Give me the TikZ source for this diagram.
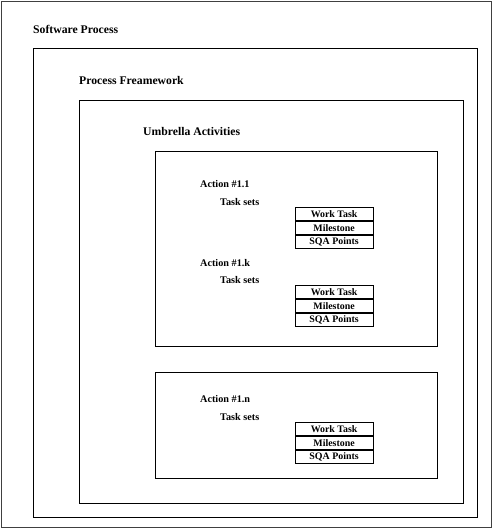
\documentclass[tikz,border=0pt]{standalone}
\usepackage{fontspec}
\setmainfont{Liberation Serif}
\begin{document}
\begin{tikzpicture}[x=1pt,y=-1pt,
  frame/.style={draw=black!75,line width=1.3pt,anchor=north west,inner sep=0pt},
  box/.style={draw=black,line width=1pt,anchor=north west,inner sep=0pt},
  lbl/.style={anchor=base west,inner sep=0pt,font=\bfseries\fontsize{11.7}{13}\selectfont},
  sublbl/.style={anchor=base west,inner sep=0pt,font=\bfseries\fontsize{10.2}{12}\selectfont},
  tsk/.style={draw=black,line width=1.2pt,minimum width=78pt,minimum height=12.5pt,inner sep=0pt,anchor=north west,font=\bfseries\fontsize{9.9}{11}\selectfont}]
\useasboundingbox (0,0) rectangle (494,529);
\node[frame,minimum width=490pt,minimum height=526pt] (sp) at (1,1) {};
\node[box,minimum width=444pt,minimum height=469pt] (pf) at (33,48) {};
\node[box,minimum width=384pt,minimum height=403pt] (ua) at (79,100) {};
\node[box,minimum width=282pt,minimum height=195pt] (a1) at (155,151) {};
\node[box,minimum width=282pt,minimum height=106pt] (a2) at (155,372) {};
\node[lbl] (tsp) at (33,34) {Software Process};
\node[lbl] (tpf) at (79,85) {Process Freamework};
\node[lbl] (tua) at (143,136) {Umbrella Activities};
\node[sublbl] (t11) at (200,188) {Action \#1.1};
\node[sublbl] (ts1) at (220,205) {Task sets};
\node[sublbl] (t1k) at (200,266) {Action \#1.k};
\node[sublbl] (ts2) at (220,283) {Task sets};
\node[sublbl] (t1n) at (200,402) {Action \#1.n};
\node[sublbl] (ts3) at (220,420) {Task sets};
\foreach \y/\n in {207/a,285/b,422/c}{
  \node[tsk] (w\n) at (294.5,\y) {Work Task};
  \node[tsk] (m\n) at (294.5,\y+14) {Milestone};
  \node[tsk] (q\n) at (294.5,\y+28) {SQA Points};
}
\end{tikzpicture}
\end{document}
